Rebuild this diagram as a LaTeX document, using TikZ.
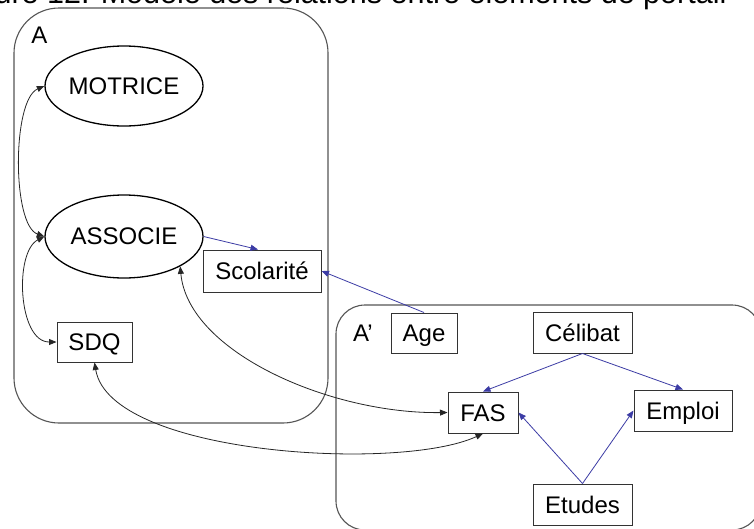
\documentclass[tikz,border=0pt]{standalone}
\usepackage{fontspec}
\setmainfont{Liberation Sans}
\usetikzlibrary{shapes.geometric,arrows.meta}
\definecolor{linegray}{RGB}{85,85,85}
\definecolor{arrowblue}{RGB}{60,60,165}
\begin{document}
\begin{tikzpicture}[x=1pt,y=-1pt,
  lbl/.style={font=\fontsize{24}{28}\selectfont, text=black},
  ell/.style={ellipse, draw=black, line width=1.3pt, minimum width=158pt, minimum height=80pt, inner sep=0pt, lbl},
  box/.style={rectangle, draw=black!80, line width=1pt, inner sep=0pt, lbl, text height=17.5pt, text depth=0pt},
  group/.style={draw=linegray, line width=1.1pt},
  blk/.style={draw=black!85, line width=0.8pt, {Triangle[length=7.5pt,width=6pt]}-{Triangle[length=7.5pt,width=6pt]}},
  blu/.style={draw=arrowblue, line width=0.8pt, -{Triangle[length=7.5pt,width=6pt]}}
]
\useasboundingbox (0,0) rectangle (754,528);
\clip (0,0) rectangle (754,528);
\fill[white] (0,0) rectangle (754,528);

\node[font=\fontsize{30.5}{34}\selectfont, anchor=base west, inner sep=0pt] (CAP) at (-48,3.5) {Figure 12. Modèle des relations entre éléments de portail};

\draw[group, rounded corners=45pt] (14,8) rectangle (328,423);
\draw[group, rounded corners=29pt] (336,305) rectangle (761,530);

\node[lbl, text height=17.5pt, text depth=0pt, inner sep=0pt] (LA) at (39.5,35) {A};
\node[lbl, text height=17.5pt, text depth=0pt, inner sep=0pt] (LAp) at (363,332.5) {A’};

\node[ell] (MOT) at (124,86) {MOTRICE};
\node[ell, minimum height=83pt] (ASS) at (124,236.5) {ASSOCIE};
\node[box, minimum width=118pt, minimum height=42pt] (SCO) at (262,271) {Scolarité};
\node[box, minimum width=75pt, minimum height=40pt] (SDQ) at (94.5,342) {SDQ};
\node[box, minimum width=66pt, minimum height=40pt] (AGE) at (424,333) {Age};
\node[box, minimum width=99pt, minimum height=41pt] (CEL) at (582.5,332.5) {Célibat};
\node[box, minimum width=70pt, minimum height=41pt] (FAS) at (483,412.5) {FAS};
\node[box, minimum width=98pt, minimum height=41pt] (EMP) at (683,410.5) {Emploi};
\node[box, minimum width=99pt, minimum height=41pt] (ETU) at (582.5,504.5) {Etudes};

\draw[blk] (MOT.west) .. controls (12,100) and (12,225) .. (ASS.west);
\draw[blk] (ASS.west) .. controls (14,252) and (18,342) .. (SDQ.west);
\draw[blk] (ASS.-28) .. controls (188,352) and (330,414) .. (FAS.west);
\draw[blk] (SDQ.south) .. controls (110,455) and (400,472) .. (FAS.south);

\draw[blu] (ASS.east) -- ([xshift=-4pt]SCO.north);
\draw[blu] (AGE.north) -- (SCO.east);
\draw[blu] (CEL.south) -- (FAS.north);
\draw[blu] (CEL.south) -- (EMP.north);
\draw[blu] (ETU.north) -- (FAS.east);
\draw[blu] (ETU.north) -- (EMP.west);
\end{tikzpicture}
\end{document}
